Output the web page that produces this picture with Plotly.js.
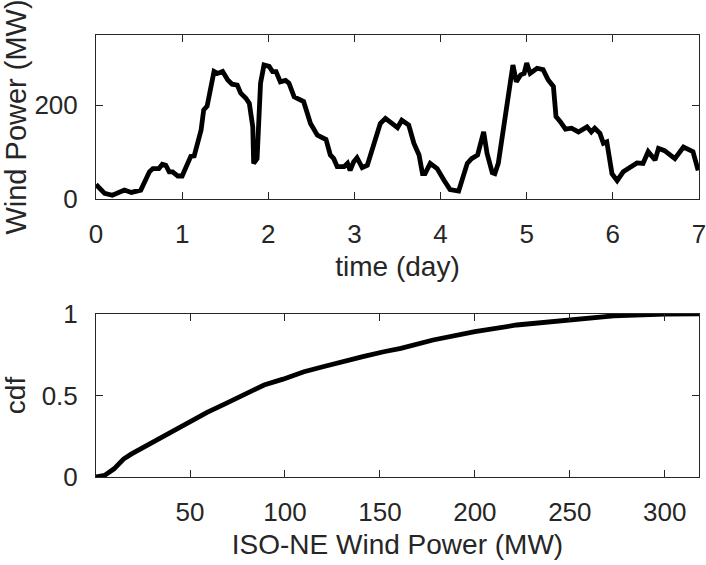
<!DOCTYPE html>
<html>
<head>
<meta charset="utf-8">
<script src="https://cdn.plot.ly/plotly-3.0.1.min.js"></script>
<style>
  html, body { margin: 0; padding: 0; background: #fff; }
  #chart { width: 706px; height: 565px; }
</style>
</head>
<body>
<div id="chart"></div>
<script>
// one week of ISO-NE wind power
var days = [0.00, 0.10, 0.19, 0.33, 0.41, 0.52, 0.62, 0.66, 0.73, 0.77, 0.81, 0.85, 0.89, 0.95,
  1.00, 1.06, 1.10, 1.14, 1.22, 1.25, 1.29, 1.37, 1.41, 1.47, 1.53, 1.58, 1.64, 1.68, 1.74, 1.78,
  1.82, 1.83, 1.87, 1.91, 1.95, 2.01, 2.05, 2.09, 2.14, 2.20, 2.24, 2.30, 2.36, 2.41, 2.49, 2.57,
  2.67, 2.72, 2.76, 2.80, 2.88, 2.92, 2.95, 2.99, 3.03, 3.09, 3.15, 3.23, 3.30, 3.36, 3.42, 3.46,
  3.50, 3.55, 3.63, 3.69, 3.75, 3.79, 3.82, 3.88, 3.96, 4.04, 4.11, 4.21, 4.25, 4.31, 4.36, 4.43,
  4.50, 4.54, 4.60, 4.63, 4.67, 4.73, 4.79, 4.84, 4.88, 4.93, 4.97, 5.00, 5.04, 5.12, 5.19, 5.25,
  5.31, 5.34, 5.39, 5.45, 5.52, 5.60, 5.70, 5.75, 5.79, 5.85, 5.89, 5.93, 5.99, 6.05, 6.12, 6.20,
  6.28, 6.35, 6.41, 6.49, 6.53, 6.60, 6.72, 6.82, 6.88, 6.93, 6.99];
var power = [31, 12, 8, 19, 14, 19, 58, 65, 65, 74, 72, 58, 58, 49,
  49, 76, 91, 92, 147, 190, 198, 272, 268, 272, 254, 245, 243, 226, 215, 204,
  154, 76, 86, 247, 286, 283, 272, 272, 250, 253, 247, 218, 211, 208, 161, 136,
  127, 94, 86, 69, 69, 76, 61, 79, 88, 67, 72, 119, 161, 172, 162, 156,
  152, 168, 158, 119, 94, 54, 54, 76, 65, 40, 20, 17, 40, 76, 86, 94,
  143, 97, 56, 54, 76, 147, 218, 286, 250, 265, 268, 290, 268, 279, 276, 254,
  240, 176, 165, 149, 151, 143, 154, 143, 151, 140, 119, 122, 54, 39, 58, 69,
  77, 76, 101, 83, 108, 103, 86, 111, 104, 101, 61];
var dayTicks = [0, 1, 2, 3, 4, 5, 6, 7];

// empirical cdf
var cdfPower = [0.5, 5, 10, 15, 19, 29, 40, 50, 59, 69, 78, 89, 99, 110, 120, 131, 141, 152,
  161, 178, 200, 222, 250, 273, 300, 318];
var cdfValue = [0, 0.01, 0.05, 0.11, 0.14, 0.205, 0.277, 0.338, 0.396, 0.451, 0.502, 0.564,
  0.600, 0.645, 0.676, 0.711, 0.738, 0.768, 0.789, 0.84, 0.891, 0.932, 0.963, 0.988, 0.999, 1];

var ink = '#262626';

function ax(extra) {
  var base = {
    showline: true, linecolor: ink, linewidth: 1, mirror: 'ticks',
    ticks: 'inside', ticklen: 7, tickcolor: ink, tickwidth: 1,
    showgrid: false, zeroline: false, ticklabelstandoff: 12,
    ticklabeloverflow: 'allow',
    tickfont: {size: 26, color: ink}
  };
  for (var k in extra) base[k] = extra[k];
  return base;
}

var traces = [
  {x: days, y: power, xaxis: 'x', yaxis: 'y', type: 'scatter', mode: 'lines',
   line: {color: '#000', width: 4.8}},
  {x: cdfPower, y: cdfValue, xaxis: 'x2', yaxis: 'y2', type: 'scatter', mode: 'lines',
   line: {color: '#000', width: 4.8}}
];

var layout = {
  width: 706, height: 565,
  margin: {l: 96, r: 7, t: 35, b: 88},
  font: {family: 'Liberation Sans, Arial, sans-serif', color: ink},
  showlegend: false,
  paper_bgcolor: '#fff', plot_bgcolor: '#fff',
  xaxis: ax({anchor: 'y', range: [0, 7.0001], tickvals: dayTicks,
    title: {text: 'time (day)', font: {size: 28}, standoff: 8}}),
  yaxis: ax({anchor: 'x', domain: [0.629, 1], range: [0, 350], tickvals: [0, 200],
    title: {text: 'Wind Power (MW)', font: {size: 29}, standoff: 6}}),
  xaxis2: ax({anchor: 'y2', range: [0.5, 318], tick0: 0, dtick: 50,
    title: {text: 'ISO-NE Wind Power (MW)', font: {size: 28}, standoff: 8}}),
  yaxis2: ax({anchor: 'x2', domain: [0, 0.369], range: [0, 1], tickvals: [0, 0.5, 1],
    ticktext: ['0', '0.5', '1'],
    title: {text: 'cdf', font: {size: 28}, standoff: 8}})
};

Plotly.newPlot('chart', traces, layout, {staticPlot: true});
</script>
</body>
</html>
